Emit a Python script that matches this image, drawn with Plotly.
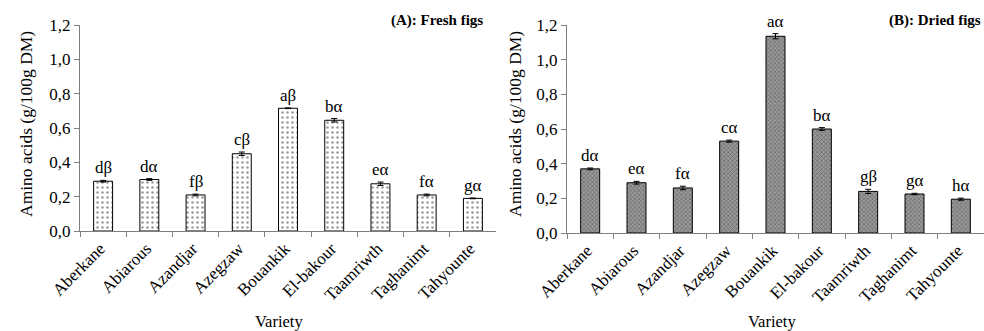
import plotly.graph_objects as go

varieties = ["Aberkane", "Abiarous", "Azandjar", "Azegzaw", "Bouankik",
             "El-bakour", "Taamriwth", "Taghanimt", "Tahyounte"]
fresh_values = [0.29, 0.30, 0.21, 0.45, 0.715, 0.645, 0.275, 0.21, 0.19]
fresh_errors = [0.005, 0.005, 0.005, 0.01, 0.002, 0.01, 0.01, 0.005, 0.002]
fresh_letters = ["dβ", "dα", "fβ", "cβ", "aβ", "bα", "eα", "fα", "gα"]
dried_values = [0.37, 0.29, 0.26, 0.53, 1.135, 0.60, 0.24, 0.225, 0.195]
dried_errors = [0.005, 0.008, 0.01, 0.006, 0.015, 0.008, 0.012, 0.004, 0.006]
dried_letters = ["dα", "eα", "fα", "cα", "aα", "bα", "gβ", "gα", "hα"]
y_ticks = [0.0, 0.2, 0.4, 0.6, 0.8, 1.0, 1.2]
panel_titles = ["(A): Fresh figs", "(B): Dried figs"]
y_title = "Amino acids (g/100g DM)"
x_title = "Variety"

FONT = "Liberation Serif"
W, H = 984, 331

fig = go.Figure()
fig.add_trace(go.Bar(
    x=varieties, y=fresh_values, xaxis="x", yaxis="y",
    width=0.41,
    marker=dict(color="white", line=dict(color="black", width=1),
                pattern=dict(shape=".", size=5, solidity=0.2, fgcolor="#333333", bgcolor="white")),
    error_y=dict(type="data", array=fresh_errors, color="black", thickness=1, width=3),
    showlegend=False,
))
fig.add_trace(go.Bar(
    x=varieties, y=dried_values, xaxis="x2", yaxis="y2",
    width=0.41,
    marker=dict(color="#8c8c8c", line=dict(color="black", width=1),
                pattern=dict(shape="x", size=3, solidity=0.4, fgcolor="#333333", bgcolor="#9a9a9a")),
    error_y=dict(type="data", array=dried_errors, color="black", thickness=1, width=3),
    showlegend=False,
))

annotations = []
for xa, ya, vals, errs, letters in [("x", "y", fresh_values, fresh_errors, fresh_letters),
                                     ("x2", "y2", dried_values, dried_errors, dried_letters)]:
    for v, e, l, name in zip(vals, errs, letters, varieties):
        annotations.append(dict(x=name, y=v + e, xref=xa, yref=ya, text=l, showarrow=False,
                                yanchor="bottom", yshift=1,
                                font=dict(family=FONT, size=17, color="black")))

# panel titles
annotations.append(dict(x=485 / W, y=1 - 20 / H, xref="paper", yref="paper", text="<b>" + panel_titles[0] + "</b>",
                        showarrow=False, xanchor="right", yanchor="middle",
                        font=dict(family=FONT, size=15, color="black")))
annotations.append(dict(x=983 / W, y=1 - 20 / H, xref="paper", yref="paper", text="<b>" + panel_titles[1] + "</b>",
                        showarrow=False, xanchor="right", yanchor="middle",
                        font=dict(family=FONT, size=15, color="black")))
# y titles
annotations.append(dict(x=26 / W, y=1 - 124 / H, xref="paper", yref="paper", text=y_title, textangle=-90,
                        showarrow=False, xanchor="center", yanchor="middle",
                        font=dict(family=FONT, size=17.5, color="black")))
annotations.append(dict(x=515 / W, y=1 - 124 / H, xref="paper", yref="paper", text=y_title, textangle=-90,
                        showarrow=False, xanchor="center", yanchor="middle",
                        font=dict(family=FONT, size=17.5, color="black")))
# x titles
annotations.append(dict(x=279 / W, y=1 - 321 / H, xref="paper", yref="paper", text=x_title,
                        showarrow=False, xanchor="center", yanchor="middle",
                        font=dict(family=FONT, size=16.5, color="black")))
annotations.append(dict(x=772 / W, y=1 - 321 / H, xref="paper", yref="paper", text=x_title,
                        showarrow=False, xanchor="center", yanchor="middle",
                        font=dict(family=FONT, size=16.5, color="black")))

xcommon = dict(type="category", showline=True, linecolor="#7f7f7f", linewidth=1,
               ticks="outside", tickson="boundaries", ticklen=5, tickcolor="#7f7f7f",
               tickangle=-45, tickfont=dict(family=FONT, size=17, color="black"),
               ticklabelshift=-3, automargin=False,
               showgrid=False, zeroline=False, range=[-0.5, 8.5], fixedrange=True)
ycommon = dict(range=[0, 1.2], tickvals=y_ticks, tickformat=".1f", showline=True,
               linecolor="#7f7f7f", linewidth=1, ticks="outside", ticklen=5, tickcolor="#7f7f7f",
               automargin=False,
               tickfont=dict(family=FONT, size=17, color="black"), showgrid=False, zeroline=False)

fig.update_layout(
    width=W, height=H,
    margin=dict(l=0, r=0, t=0, b=0, autoexpand=False),
    paper_bgcolor="white", plot_bgcolor="white",
    separators=", ",
    bargap=0.59,
    xaxis=dict(domain=[80 / W, 496 / W], anchor="y", **xcommon),
    yaxis=dict(domain=[1 - 231 / H, 1 - 25 / H], anchor="x", **ycommon),
    xaxis2=dict(domain=[567 / W, 1.0], anchor="y2", **xcommon),
    yaxis2=dict(domain=[1 - 233 / H, 1 - 25 / H], anchor="x2", **ycommon),
    annotations=annotations,
    font=dict(family=FONT, color="black"),
)

fig.write_html("out.html")
